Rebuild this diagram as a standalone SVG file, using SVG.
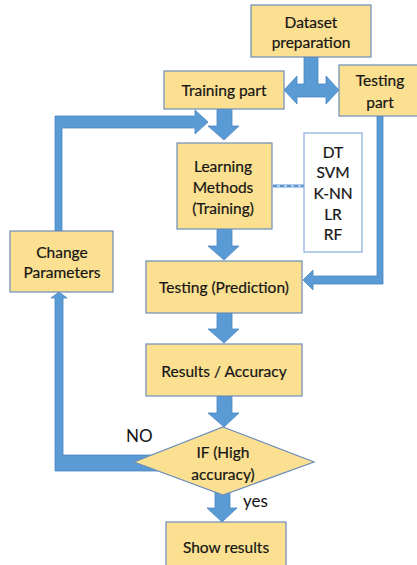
<svg xmlns="http://www.w3.org/2000/svg" width="417" height="565" viewBox="0 0 417 565">
  <style>
    .box { fill: #FCE091; stroke: #6D8DBA; stroke-width: 1.2; }
    .list { fill: #ffffff; stroke: #86AEDC; stroke-width: 1.2; }
    .arrow { fill: #5B9BD5; stroke: #4A86C2; stroke-width: 0.8; }
    .lbl { font-family: Lato, "Open Sans", "Liberation Sans", sans-serif; font-size: 15.5px; fill: #141414; stroke: #141414; stroke-width: 0.2; text-anchor: middle; dominant-baseline: central; }
    .tag { font-family: Lato, "Open Sans", "Liberation Sans", sans-serif; font-size: 17px; fill: #111; }
  </style>
  <rect width="417" height="565" fill="#ffffff"/>

  <!-- connectors -->
  <g id="connectors">
    <!-- dataset split into training / testing -->
    <polygon class="arrow" points="304,57 318,57 318,84 326,84 326,76 339,90 326,104 326,97 297,97 297,104 284,90 297,76 297,84 304,84"/>
    <!-- training -> learning -->
    <polygon class="arrow" points="217,109 232,109 232,126 239,126 224,140 208,126 217,126"/>
    <!-- change parameters loop back into training -->
    <polygon class="arrow" points="55,116 195,116 195,110 208,122 195,134 195,128 62,128 62,231 55,231"/>
    <!-- testing part -> testing (prediction) -->
    <polygon class="arrow" points="377,116 383,116 383,284 313,284 313,290 303,280 313,270 313,276 377,276"/>
    <!-- learning -> testing (prediction) -->
    <polygon class="arrow" points="217,229 232,229 232,246 239,246 224,260 208,246 217,246"/>
    <!-- testing -> results -->
    <polygon class="arrow" points="217,313 232,313 232,329 239,329 224,343 208,329 217,329"/>
    <!-- results -> decision -->
    <polygon class="arrow" points="217,396 232,396 232,413 239,413 224,427 208,413 217,413"/>
    <!-- decision NO -> change parameters -->
    <polygon class="arrow" points="55,471 160,471 160,455 63,455 63,298 67,298 59,292 51,298 55,298"/>
    <!-- decision yes -> show results -->
    <polygon class="arrow" points="215,490 230,490 230,508 237,508 222,522 207,508 215,508"/>
    <!-- learning methods to model list -->
    <line x1="273" y1="186" x2="304" y2="186" stroke="#A9CDF0" stroke-width="4"/>
    <line x1="273" y1="186" x2="304" y2="186" stroke="#2F5597" stroke-width="1.2" stroke-dasharray="4,3"/>
    <text class="tag" x="126" y="442">NO</text>
    <text class="tag" x="243" y="507">yes</text>
  </g>

  <g id="dataset">
    <rect class="box" x="251" y="5" width="120" height="52"/>
    <text class="lbl" x="311" y="22">Dataset</text>
    <text class="lbl" x="311" y="42">preparation</text>
  </g>

  <g id="training">
    <rect class="box" x="164" y="71" width="120" height="38"/>
    <text class="lbl" x="224" y="90">Training part</text>
  </g>

  <g id="testing-part">
    <rect class="box" x="339" y="65" width="80" height="51"/>
    <text class="lbl" x="380" y="80">Testing</text>
    <text class="lbl" x="380" y="102">part</text>
  </g>

  <g id="learning">
    <rect class="box" x="177" y="143" width="95" height="86"/>
    <text class="lbl" x="223" y="166">Learning</text>
    <text class="lbl" x="223" y="187">Methods</text>
    <text class="lbl" x="223" y="208">(Training)</text>
  </g>

  <g id="models">
    <rect class="list" x="304" y="133" width="58" height="119"/>
    <text class="lbl" x="333" y="152">DT</text>
    <text class="lbl" x="333" y="172">SVM</text>
    <text class="lbl" x="333" y="193">K-NN</text>
    <text class="lbl" x="333" y="214">LR</text>
    <text class="lbl" x="333" y="234">RF</text>
  </g>

  <g id="change-parameters">
    <rect class="box" x="10" y="231" width="103" height="61"/>
    <text class="lbl" x="62" y="252">Change</text>
    <text class="lbl" x="62" y="272">Parameters</text>
  </g>

  <g id="testing-prediction">
    <rect class="box" x="146" y="261" width="156" height="52"/>
    <text class="lbl" x="224" y="287">Testing (Prediction)</text>
  </g>

  <g id="results">
    <rect class="box" x="146" y="344" width="156" height="52"/>
    <text class="lbl" x="224" y="371">Results / Accuracy</text>
  </g>

  <g id="decision">
    <polygon class="box" points="223,427 314,462 223,495 134,462"/>
    <text class="lbl" x="223" y="452">IF (High</text>
    <text class="lbl" x="223" y="474">accuracy)</text>
  </g>

  <g id="show-results">
    <rect class="box" x="166" y="522" width="120" height="50"/>
    <text class="lbl" x="226" y="547">Show results</text>
  </g>
</svg>
